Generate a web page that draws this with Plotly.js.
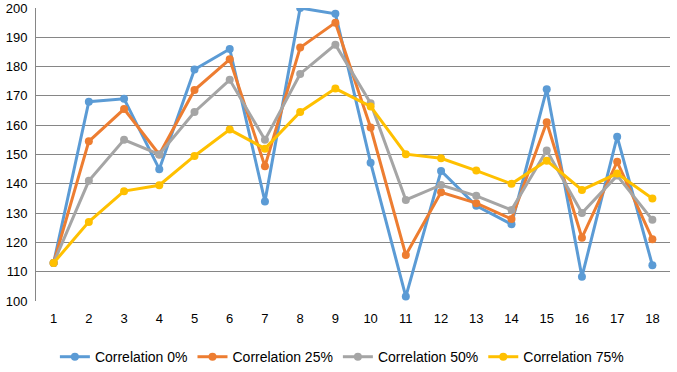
<!DOCTYPE html>
<html><head><meta charset="utf-8">
<script src="https://cdn.plot.ly/plotly-3.0.1.min.js"></script>
<style>html,body{margin:0;padding:0;background:#fff}#chart{width:677px;height:372px}</style>
</head><body><div id="chart"></div>
<script>
const categories = [1,2,3,4,5,6,7,8,9,10,11,12,13,14,15,16,17,18];
const seriesNames = ["Correlation 0%","Correlation 25%","Correlation 50%","Correlation 75%"];
const corr0  = [113,168,169,145,179,186,134,200,198,147.2,101.5,144.4,132.5,126.2,172.3,108.3,156.1,112.2];
const corr25 = [113,154.5,165.5,150,172,182.5,146,186.5,195,159.2,115.7,137.1,133.4,128,161,121.6,147.5,121.1];
const corr50 = [113,141,155,150,164.5,175.5,155,177.5,187.5,167.5,134.5,139.6,135.9,131.1,151.4,130,142.8,127.7];
const corr75 = [113,127,137.5,139.5,149.5,158.5,152,164.5,172.5,166.4,150.1,148.7,144.5,140,147.9,137.9,143.5,135];
const colors = ["#5B9BD5","#ED7D31","#A5A5A5","#FFC000"];
const allSeries = [corr0, corr25, corr50, corr75];

const traces = allSeries.map((vals, i) => ({
  x: categories, y: vals, name: seriesNames[i], type: "scatter", mode: "lines+markers",
  line: {color: colors[i], width: 3},
  marker: {color: colors[i], size: 8}
}));

const layout = {
  width: 677, height: 372,
  margin: {l: 36, r: 7, t: 8, b: 71},
  paper_bgcolor: "#fff", plot_bgcolor: "#fff",
  font: {family: "Liberation Sans, Arial, sans-serif", size: 13, color: "#000"},
  showlegend: true,
  legend: {orientation: "h", xref: "container", yref: "container", x: 0.505, xanchor: "center",
           y: 0.04, yanchor: "middle", font: {size: 14, color: "#000"}, traceorder: "normal", itemwidth: 30},
  xaxis: {range: [0.5, 18.5], tickmode: "array", tickvals: categories, ticktext: categories.map(String),
          showgrid: false, zeroline: false, showline: false, ticks: "", fixedrange: true, automargin: false,
          ticklabelstandoff: 8},
  yaxis: {range: [100, 200], dtick: 10, tick0: 100, showgrid: true, gridcolor: "#868686", gridwidth: 1,
          zeroline: false, showline: true, linecolor: "#868686", linewidth: 1, ticks: "", fixedrange: true,
          automargin: false, ticklabelstandoff: 5}
};
Plotly.newPlot("chart", traces, layout, {displayModeBar: false, staticPlot: true});
</script></body></html>
